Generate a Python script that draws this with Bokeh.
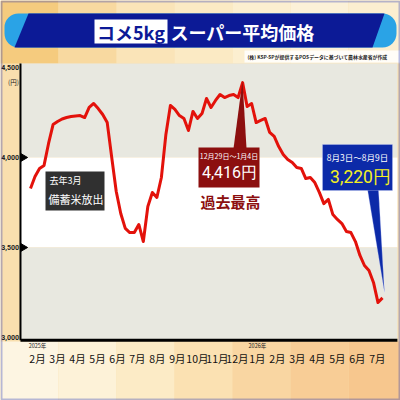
import math
from bokeh.plotting import figure
from bokeh.models import BoxAnnotation, PolyAnnotation, Label, Range1d, ColumnDataSource
from bokeh.embed import file_html
from bokeh.resources import INLINE

# ---------------- data ----------------
title_key = "コメ5kg"
title_rest = "スーパー平均価格"
source_note = "(株) KSP-SPが提供するPOSデータに基づいて農林水産省が作成"
months = ["2月", "3月", "4月", "5月", "6月", "7月", "8月", "9月", "10月", "11月", "12月",
          "1月", "2月", "3月", "4月", "5月", "6月", "7月"]
years = ["2025年", "2026年"]
year_at = [0, 11]
y_ticks = [3000, 3500, 4000, 4500]
y_tick_labels = ["3,000", "3,500", "4,000", "4,500"]
y_unit = "(円)"
# weekly average price (yen / 5kg)
prices = [3828, 3894, 3939, 3956, 4078, 4183, 4200, 4214, 4222, 4228,
          4231, 4233, 4222, 4278, 4300, 4272, 4239, 4194, 4000, 3811,
          3689, 3606, 3583, 3583, 3628, 3533, 3728, 3806, 3778, 3889,
          4128, 4289, 4267, 4233, 4217, 4150, 4256, 4217, 4244, 4328,
          4278, 4317, 4350, 4333, 4344, 4350, 4333, 4416, 4283, 4300,
          4194, 4206, 4217, 4139, 4117, 4061, 4017, 3989, 3972, 3944,
          3939, 3883, 3889, 3861, 3806, 3744, 3767, 3683, 3656, 3633,
          3589, 3583, 3533, 3456, 3400, 3372, 3306, 3194, 3220]
note_small = "去年3月"
note_big = "備蓄米放出"
peak_period = "12月29日～1月4日"
peak_text = "4,416円"
peak_caption = "過去最高"
last_period = "8月3日～8月9日"
last_text = "3,220円"

weeks = list(range(len(prices)))

# ---------------- layout ----------------
JP = "Noto Sans CJK JP"
W = H = 400
PXW = 4.513            # pixels per week
X_LO, X_HI = -2.22, 81.3     # plot region (weeks)
Y_LO, Y_HI = 2985, 4522      # plot region (yen)


def sx(X):
    return X


def sy(Y):
    return H - Y


def scr(**kw):
    d = {}
    for k in ("left", "right", "top", "bottom"):
        if k in kw:
            d[k + "_units"] = "screen"
    d.update(kw)
    return d


p = figure(width=W, height=H, output_backend="svg", toolbar_location=None,
           x_range=Range1d(-30 / PXW, (W - 30) / PXW), y_range=Range1d(2650, 4872.2),
           min_border=0)
p.axis.visible = False
p.outline_line_color = None
p.grid.visible = False
p.background_fill_color = "#f9dfae"
p.border_fill_color = "#f9dfae"

# background decoration strips (top / bottom)
top_cols = ["#f5cb7e", "#f8d9a0", "#fae4b8", "#fbeac4", "#fcefd0", "#fcf1d8", "#fbeed0"]
bot_cols = ["#fdf5e2", "#fdf2d8", "#fcebc6", "#fbe1b2", "#f9d6a2", "#f8cd96", "#f7c78e"]
for i in range(7):
    x0 = i * 58
    p.add_layout(BoxAnnotation(**scr(left=sx(x0), right=sx(x0 + 58), top=sy(0), bottom=sy(63)),
                               fill_color=top_cols[i], fill_alpha=1, line_color=None, level="underlay"))
    p.add_layout(BoxAnnotation(**scr(left=sx(x0), right=sx(x0 + 58), top=sy(341), bottom=sy(400)),
                               fill_color=bot_cols[i], fill_alpha=1, line_color=None, level="underlay"))

# plot region bands
p.add_layout(BoxAnnotation(left=X_LO, right=X_HI, bottom=y_ticks[2], top=Y_HI,
                           fill_color="#e8e8e0", fill_alpha=1, line_color=None, level="underlay"))
p.add_layout(BoxAnnotation(left=X_LO, right=X_HI, bottom=y_ticks[1], top=y_ticks[2],
                           fill_color="white", fill_alpha=1, line_color=None, level="underlay"))
p.add_layout(BoxAnnotation(left=X_LO, right=X_HI, bottom=Y_LO, top=y_ticks[1],
                           fill_color="#e8e8e0", fill_alpha=1, line_color=None, level="underlay"))

# axis lines
p.segment(x0=[X_LO], y0=[Y_LO], x1=[X_LO], y1=[Y_HI], line_color="black", line_width=2)
p.segment(x0=[X_LO], y0=[Y_LO], x1=[X_HI], y1=[Y_LO], line_color="black", line_width=3)

# y tick labels and markers
for v, t in zip(y_ticks, y_tick_labels):
    p.add_layout(Label(x=X_LO, y=v, x_offset=-1.5, text=t,
                       text_align="right", text_baseline="middle", text_font="Roboto",
                       text_font_size="7px", text_font_style="bold", text_color="#222222"))
p.add_layout(Label(x=X_LO, x_offset=-1.5, y=sy(81), y_units="screen", text=y_unit,
                   text_align="right", text_baseline="middle", text_font=JP,
                   text_font_size="6.5px", text_color="#222222"))
p.scatter(x=[X_LO + 2.5 / PXW] * 2, y=y_ticks[1:3], marker="triangle", angle=-math.pi / 2,
          size=8, color="black")

# x tick labels (months) and years
tick_pos = [1.55 + 4.43 * i for i in range(len(months))]
for xp, m in zip(tick_pos, months):
    p.add_layout(Label(x=xp, y=sy(358), y_units="screen", text=m,
                       text_align="center", text_baseline="middle", text_font=JP,
                       text_font_size="10.5px", text_color="#111111"))
for yr, idx in zip(years, year_at):
    p.add_layout(Label(x=tick_pos[idx], y=sy(345.5), y_units="screen", text=yr,
                       text_align="center", text_baseline="middle", text_font=JP,
                       text_font_size="5.5px", text_color="#222222"))

# data line
src = ColumnDataSource(data=dict(week=weeks, price=prices))
p.line("week", "price", source=src, line_color="#e3120b", line_width=3, line_join="round")

# ---------------- title banner ----------------
p.add_layout(BoxAnnotation(**scr(left=sx(4), right=sx(396), top=sy(13), bottom=sy(47)),
                           fill_color="#2aa3e6", fill_alpha=1, line_color=None, border_radius=14))
p.add_layout(PolyAnnotation(xs=[sx(28), sx(384), sx(372), sx(14)], ys=[sy(13), sy(13), sy(47), sy(47)],
                            xs_units="screen", ys_units="screen",
                            fill_color="#0c1a96", fill_alpha=1, line_color=None))
p.add_layout(BoxAnnotation(**scr(left=sx(94), right=sx(167), top=sy(19), bottom=sy(43)),
                           fill_color="white", fill_alpha=1, line_color=None))
p.add_layout(Label(x=sx(130.5), y=sy(31), x_units="screen", y_units="screen", text=title_key,
                   text_align="center", text_baseline="middle", text_font=JP, text_font_style="bold",
                   text_font_size="18px", text_color="#0c1a96"))
p.add_layout(Label(x=sx(170), y=sy(31), x_units="screen", y_units="screen", text=title_rest,
                   text_align="left", text_baseline="middle", text_font=JP, text_font_style="bold",
                   text_font_size="18px", text_color="white"))
p.add_layout(BoxAnnotation(**scr(left=sx(244), right=sx(400), top=sy(50), bottom=sy(62)),
                           fill_color="white", fill_alpha=0.85, line_color=None))
p.add_layout(Label(x=sx(247), y=sy(56), x_units="screen", y_units="screen", text=source_note,
                   text_align="left", text_baseline="middle", text_font=JP, text_font_style="bold",
                   text_font_size="4.9px", text_color="#222222"))

# outer frame
p.add_layout(BoxAnnotation(**scr(left=sx(1), right=sx(399), top=sy(1), bottom=sy(399)),
                           fill_color=None, line_color="#1428b4", line_width=2))

# ---------------- annotations ----------------
p.add_layout(BoxAnnotation(**scr(left=sx(45), right=sx(104), top=sy(171), bottom=sy(210)),
                           fill_color="#303030", fill_alpha=1, line_color=None))
p.add_layout(Label(x=sx(49), y=sy(180), x_units="screen", y_units="screen", text=note_small,
                   text_align="left", text_baseline="middle", text_font=JP,
                   text_font_size="9px", text_color="white"))
p.add_layout(Label(x=sx(48), y=sy(198), x_units="screen", y_units="screen", text=note_big,
                   text_align="left", text_baseline="middle", text_font=JP,
                   text_font_size="11px", text_color="white"))

# peak callout
p.add_layout(PolyAnnotation(xs=[sx(233), sx(246), sx(242)], ys=[sy(148), sy(148), sy(80)],
                            xs_units="screen", ys_units="screen",
                            fill_color="#8c0f0f", fill_alpha=1, line_color=None))
p.add_layout(BoxAnnotation(**scr(left=sx(198), right=sx(259), top=sy(147), bottom=sy(187)),
                           fill_color="#8c0f0f", fill_alpha=1, line_color=None))
p.add_layout(Label(x=sx(228.5), y=sy(155), x_units="screen", y_units="screen", text=peak_period,
                   text_align="center", text_baseline="middle", text_font=JP,
                   text_font_size="7px", text_color="white"))
p.add_layout(Label(x=sx(229), y=sy(172), x_units="screen", y_units="screen", text=peak_text,
                   text_align="center", text_baseline="middle", text_font="Roboto",
                   text_font_size="16px", text_color="white"))
p.add_layout(Label(x=sx(230), y=sy(201), x_units="screen", y_units="screen", text=peak_caption,
                   text_align="center", text_baseline="middle", text_font=JP, text_font_style="bold",
                   text_font_size="15px", text_color="#8c0f0f"))

# last-week callout
p.add_layout(PolyAnnotation(xs=[sx(367), sx(378), sx(384)], ys=[sy(189), sy(189), sy(292)],
                            xs_units="screen", ys_units="screen",
                            fill_color="#0c2aa8", fill_alpha=1, line_color="#cfd8ff", line_width=1))
p.add_layout(BoxAnnotation(**scr(left=sx(322), right=sx(392), top=sy(144), bottom=sy(190)),
                           fill_color="#0c2aa8", fill_alpha=1, line_color="#cfd8ff", line_width=1))
p.add_layout(Label(x=sx(357), y=sy(156), x_units="screen", y_units="screen", text=last_period,
                   text_align="center", text_baseline="middle", text_font=JP,
                   text_font_size="8.5px", text_color="white"))
p.add_layout(Label(x=sx(360), y=sy(176), x_units="screen", y_units="screen", text=last_text,
                   text_align="center", text_baseline="middle", text_font="Roboto",
                   text_font_size="17.5px", text_color="#f4f022"))

open("out.html", "w").write(file_html(p, INLINE))
